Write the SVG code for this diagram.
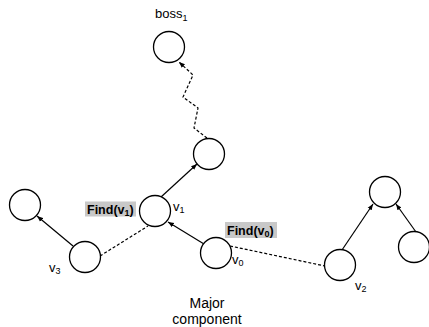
<svg xmlns="http://www.w3.org/2000/svg" width="429" height="327" viewBox="0 0 429 327">
<style>
.n{fill:#fff;stroke:#000;stroke-width:1.3}
.e{fill:none;stroke:#000;stroke-width:1.2}
.d{stroke-dasharray:3,2}
.t{font-family:"Liberation Sans",Arial,sans-serif;font-size:13px;fill:#000}
.b{font-weight:bold;font-size:12.5px}
.m{font-size:14px}
.hl{fill:#c8c8c8}
</style>
<defs>
<marker id="a" viewBox="0 0 10 10" refX="10" refY="5" markerWidth="6" markerHeight="6" markerUnits="userSpaceOnUse" orient="auto">
<path d="M0,1 L10,5 L0,9 z" fill="#000"/>
</marker>
</defs>
<g id="connectors">
<polyline class="e d" points="207,138 194,128 198,108 183,97 193,75 179,62" marker-end="url(#a)"/>
<line class="e" x1="161" y1="197" x2="197" y2="164" marker-end="url(#a)"/>
<line class="e" x1="73" y1="246" x2="37" y2="216" marker-end="url(#a)"/>
<line class="e d" x1="100" y1="256" x2="148" y2="226"/>
<line class="e" x1="204" y1="244" x2="168" y2="222" marker-end="url(#a)"/>
<line class="e d" x1="230" y1="246" x2="325" y2="266"/>
<line class="e" x1="342" y1="250" x2="373" y2="204" marker-end="url(#a)"/>
<line class="e" x1="416" y1="232" x2="396" y2="204" marker-end="url(#a)"/>
</g>
<g id="boss"><circle class="n" cx="169" cy="47" r="15.5"/><text class="t" x="155" y="18">boss<tspan font-size="9" dy="3">1</tspan></text></g>
<g id="mid"><circle class="n" cx="209" cy="154" r="15.5"/></g>
<g id="v1"><circle class="n" cx="155" cy="211" r="15.5"/><text class="t" x="173" y="211">v<tspan font-size="9" dy="2">1</tspan></text></g>
<g id="topleft"><circle class="n" cx="25" cy="205" r="15.5"/></g>
<g id="v3"><circle class="n" cx="85" cy="257" r="15.5"/><text class="t" x="49" y="272">v<tspan font-size="9" dy="2">3</tspan></text></g>
<g id="v0"><circle class="n" cx="216" cy="253" r="15.5"/><text class="t" x="232" y="264">v<tspan font-size="9" dy="2">0</tspan></text></g>
<g id="v2"><circle class="n" cx="340" cy="265" r="15.5"/><text class="t" x="355" y="290">v<tspan font-size="9" dy="2">2</tspan></text></g>
<g id="topright"><circle class="n" cx="385" cy="192" r="15.5"/></g>
<g id="right"><circle class="n" cx="414" cy="247" r="15.5"/></g>
<g id="find1"><rect class="hl" x="85" y="201.5" width="51" height="15"/><text class="t b" x="87" y="213.5">Find(v<tspan font-size="9" dy="2">1</tspan><tspan dy="-2">)</tspan></text></g>
<g id="find0"><rect class="hl" x="225" y="222" width="52" height="16"/><text class="t b" x="227" y="234.5">Find(v<tspan font-size="9" dy="2">0</tspan><tspan dy="-2">)</tspan></text></g>
<g id="label"><text class="t m" x="207" y="308" text-anchor="middle">Major</text><text class="t m" x="207" y="324" text-anchor="middle">component</text></g>
</svg>
